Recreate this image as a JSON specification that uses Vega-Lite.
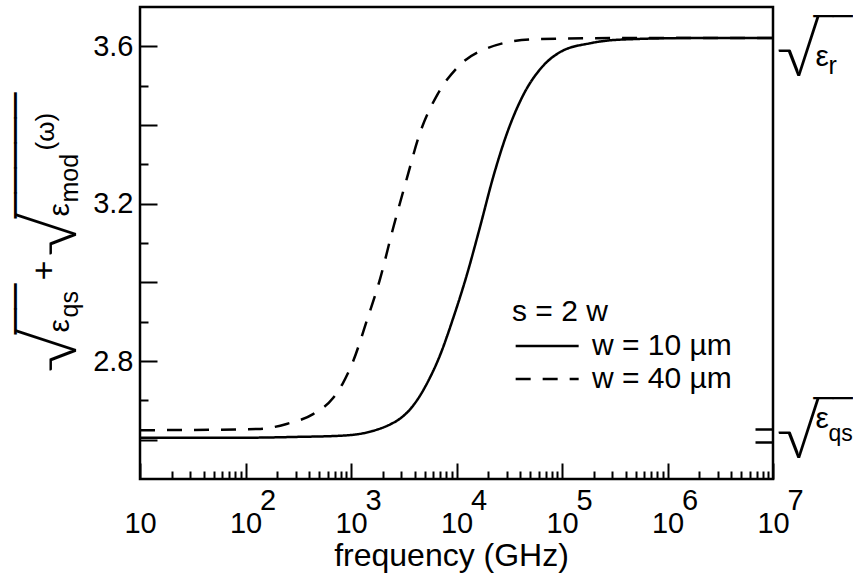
{
  "$schema": "https://vega.github.io/schema/vega-lite/v6.json",
  "width": 633,
  "height": 472,
  "autosize": "none",
  "padding": {"left": 140, "top": 7, "right": 80, "bottom": 95},
  "background": "white",
  "config": {
    "font": "Liberation Sans",
    "view": {"stroke": "black", "strokeWidth": 2.5},
    "axis": {
      "domain": false, "grid": false,
      "labelColor": "black", "titleColor": "black", "tickColor": "black", "tickWidth": 2,
      "labelFont": "Liberation Sans", "titleFont": "Liberation Sans", "titleFontWeight": "normal",
      "labelFlush": false, "labelOverlap": false, "labelBound": false
    }
  },
  "data": {"values": [
    {"series": "w = 10 µm", "frequency": 10, "value": 2.605},
    {"series": "w = 10 µm", "frequency": 100, "value": 2.605},
    {"series": "w = 10 µm", "frequency": 300, "value": 2.607},
    {"series": "w = 10 µm", "frequency": 800, "value": 2.610},
    {"series": "w = 10 µm", "frequency": 1600, "value": 2.622},
    {"series": "w = 10 µm", "frequency": 2400, "value": 2.640},
    {"series": "w = 10 µm", "frequency": 2900, "value": 2.653},
    {"series": "w = 10 µm", "frequency": 3600, "value": 2.676},
    {"series": "w = 10 µm", "frequency": 4270, "value": 2.702},
    {"series": "w = 10 µm", "frequency": 5370, "value": 2.748},
    {"series": "w = 10 µm", "frequency": 6920, "value": 2.812},
    {"series": "w = 10 µm", "frequency": 9330, "value": 2.910},
    {"series": "w = 10 µm", "frequency": 12600, "value": 3.021},
    {"series": "w = 10 µm", "frequency": 16600, "value": 3.138},
    {"series": "w = 10 µm", "frequency": 22400, "value": 3.270},
    {"series": "w = 10 µm", "frequency": 30200, "value": 3.380},
    {"series": "w = 10 µm", "frequency": 42700, "value": 3.475},
    {"series": "w = 10 µm", "frequency": 66000, "value": 3.550},
    {"series": "w = 10 µm", "frequency": 95500, "value": 3.585},
    {"series": "w = 10 µm", "frequency": 186000, "value": 3.608},
    {"series": "w = 10 µm", "frequency": 355000, "value": 3.617},
    {"series": "w = 10 µm", "frequency": 1600000, "value": 3.621},
    {"series": "w = 10 µm", "frequency": 10000000, "value": 3.621},
    {"series": "w = 40 µm", "frequency": 10, "value": 2.624},
    {"series": "w = 40 µm", "frequency": 130, "value": 2.627},
    {"series": "w = 40 µm", "frequency": 245, "value": 2.640},
    {"series": "w = 40 µm", "frequency": 437, "value": 2.665},
    {"series": "w = 40 µm", "frequency": 676, "value": 2.706},
    {"series": "w = 40 µm", "frequency": 832, "value": 2.742},
    {"series": "w = 40 µm", "frequency": 1050, "value": 2.800},
    {"series": "w = 40 µm", "frequency": 1410, "value": 2.902},
    {"series": "w = 40 µm", "frequency": 1860, "value": 3.003},
    {"series": "w = 40 µm", "frequency": 2510, "value": 3.138},
    {"series": "w = 40 µm", "frequency": 3390, "value": 3.265},
    {"series": "w = 40 µm", "frequency": 4470, "value": 3.377},
    {"series": "w = 40 µm", "frequency": 6610, "value": 3.478},
    {"series": "w = 40 µm", "frequency": 10000, "value": 3.544},
    {"series": "w = 40 µm", "frequency": 19500, "value": 3.595},
    {"series": "w = 40 µm", "frequency": 53700, "value": 3.618},
    {"series": "w = 40 µm", "frequency": 316000, "value": 3.621},
    {"series": "w = 40 µm", "frequency": 10000000, "value": 3.621}
  ]},
  "layer": [
    {
      "mark": {"type": "line", "interpolate": "monotone", "strokeWidth": 2.5, "color": "black"},
      "encoding": {
        "x": {"field": "frequency", "type": "quantitative",
          "scale": {"type": "log", "domain": [10, 10000000]},
          "axis": {
            "orient": "bottom",
            "values": [10,20,30,40,50,60,70,80,90,100,200,300,400,500,600,700,800,900,1000,2000,3000,4000,5000,6000,7000,8000,9000,10000,20000,30000,40000,50000,60000,70000,80000,90000,100000,200000,300000,400000,500000,600000,700000,800000,900000,1000000,2000000,3000000,4000000,5000000,6000000,7000000,8000000,9000000,10000000],
            "tickSize": {"condition": {"test": "abs(log(datum.value)/LN10 - round(log(datum.value)/LN10)) < 0.01", "value": -16}, "value": -8},
            "labelExpr": "abs(log(datum.value)/LN10 - round(log(datum.value)/LN10)) < 0.01 ? '10' : ''",
            "labelFontSize": 29, "labelPadding": 46, "labelAlign": "center", "labelBaseline": "top",
            "title": "frequency (GHz)", "titleFontSize": 32, "titleX": 311, "titleY": 86,
            "titleAlign": "center", "titleBaseline": "alphabetic", "titleAnchor": null
          }},
        "y": {"field": "value", "type": "quantitative",
          "scale": {"domain": [2.5, 3.7]},
          "axis": {
            "orient": "left",
            "values": [2.6,2.7,2.8,2.9,3.0,3.1,3.2,3.3,3.4,3.5,3.6],
            "tickSize": {"condition": {"test": "round(datum.value*10) % 2 == 0", "value": -17}, "value": -8},
            "labelExpr": "indexof([28,32,36], round(datum.value*10)) >= 0 ? format(datum.value, '.1f') : ''",
            "labelFontSize": 29, "labelPadding": 24, "labelAlign": "right", "labelBaseline": "middle",
            "title": null
          }},
        "strokeDash": {"field": "series", "type": "nominal",
          "scale": {"domain": ["w = 10 µm", "w = 40 µm"], "range": [[1, 0], [15, 12]]},
          "legend": {
            "orient": "none", "legendX": 372, "legendY": 290, "padding": 0,
            "title": "s = 2 w", "titleFontSize": 30, "titleFontWeight": "normal", "titleFont": "Liberation Sans", "titleColor": "black", "titlePadding": 4,
            "labelFontSize": 30, "labelFont": "Liberation Sans", "labelColor": "black", "labelOffset": 50,
            "symbolType": "M-1.08,0H4.92", "symbolSize": 441, "symbolStrokeWidth": 2.5, "symbolStrokeColor": "black", "rowPadding": 3
          }}
      }
    },
    {
      "mark": {"type": "point", "opacity": 0},
      "encoding": {
        "x": {"field": "frequency", "type": "quantitative", "scale": {"type": "log", "domain": [10, 10000000]},
          "axis": {"orient": "bottom", "values": [100,1000,10000,100000,1000000,10000000],
            "labelExpr": "'' + round(log(datum.value)/LN10)", "ticks": false,
            "labelFontSize": 29, "labelPadding": 7, "labelOffset": 22, "labelAlign": "center", "labelBaseline": "top", "title": null}}
      }
    },
    {
      "mark": {"type": "point", "opacity": 0},
      "encoding": {
        "y": {"field": "value", "type": "quantitative", "scale": {"domain": [2.5, 3.7]},
          "axis": {"orient": "right", "values": [2.594, 2.626], "tickSize": -18, "tickWidth": 2.5, "labels": false, "title": null}}
      }
    },
    {
      "mark": {"type": "point", "opacity": 0},
      "encoding": {
        "y": {"field": "value", "type": "quantitative", "scale": {"domain": [2.5, 3.7]},
          "axis": {"orient": "right", "values": [3.5271, 2.5534], "ticks": false, "labelExpr": "'√'",
            "labelFont": "Lato", "labelFontWeight": 300,
            "labelFontSize": 70, "labelPadding": 3, "labelAlign": "left", "labelBaseline": "alphabetic", "title": null}}
      }
    },
    {
      "mark": {"type": "point", "opacity": 0},
      "encoding": {
        "y": {"field": "value", "type": "quantitative", "scale": {"domain": [2.5, 3.7]},
          "axis": {"orient": "right", "values": [3.6644, 2.6907], "ticks": false, "labelExpr": "'__'",
            "labelFontSize": 35, "labelPadding": 79, "labelAngle": 180, "labelAlign": "left", "labelBaseline": "alphabetic", "title": null}}
      }
    },
    {
      "mark": {"type": "point", "opacity": 0},
      "encoding": {
        "y": {"field": "value", "type": "quantitative", "scale": {"domain": [2.5, 3.7]},
          "axis": {"orient": "right", "values": [3.5525, 2.6322], "ticks": false, "labelExpr": "'ε'",
            "labelFontSize": 30, "labelPadding": 42, "labelAlign": "left", "labelBaseline": "alphabetic", "title": null}}
      }
    },
    {
      "mark": {"type": "point", "opacity": 0},
      "encoding": {
        "y": {"field": "value", "type": "quantitative", "scale": {"domain": [2.5, 3.7]},
          "axis": {"orient": "right", "values": [3.5322, 2.5991], "ticks": false, "labelExpr": "datum.value > 3 ? 'r' : 'qs'",
            "labelFontSize": {"condition": {"test": "datum.value > 3", "value": 25}, "value": 23},
            "labelPadding": 55, "labelAlign": "left", "labelBaseline": "alphabetic", "title": null}}
      }
    },
    {
      "mark": {"type": "point", "opacity": 0},
      "encoding": {
        "y": {"field": "value", "type": "quantitative", "scale": {"domain": [2.5, 3.7]},
          "axis": {"orient": "left", "values": [2.772, 3.067], "ticks": false, "labelExpr": "'√'",
            "labelFont": "Lato", "labelFontWeight": 300,
            "labelFontSize": 70, "labelPadding": 65, "labelAngle": -90, "labelAlign": "left", "labelBaseline": "alphabetic", "title": null}}
      }
    },
    {
      "mark": {"type": "point", "opacity": 0},
      "encoding": {
        "y": {"field": "value", "type": "quantitative", "scale": {"domain": [2.5, 3.7]},
          "axis": {"orient": "left", "values": [2.997, 3.4826], "ticks": false, "labelExpr": "datum.value < 3.2 ? '__' : '_____'",
            "labelFontSize": 45, "labelPadding": 118, "labelAngle": 90, "labelAlign": "left", "labelBaseline": "alphabetic", "title": null}}
      }
    },
    {
      "mark": {"type": "point", "opacity": 0},
      "encoding": {
        "y": {"field": "value", "type": "quantitative", "scale": {"domain": [2.5, 3.7]},
          "axis": {"orient": "left", "values": [2.8737, 3.1686], "ticks": false, "labelExpr": "'ε'",
            "labelFontSize": 30, "labelPadding": 72, "labelAngle": -90, "labelAlign": "left", "labelBaseline": "alphabetic", "title": null}}
      }
    },
    {
      "mark": {"type": "point", "opacity": 0},
      "encoding": {
        "y": {"field": "value", "type": "quantitative", "scale": {"domain": [2.5, 3.7]},
          "axis": {"orient": "left", "values": [2.9119, 3.2042], "ticks": false, "labelExpr": "datum.value < 3 ? 'qs' : 'mod'",
            "labelFontSize": 25, "labelPadding": 63, "labelAngle": -90, "labelAlign": "left", "labelBaseline": "alphabetic", "title": null}}
      }
    },
    {
      "mark": {"type": "point", "opacity": 0},
      "encoding": {
        "y": {"field": "value", "type": "quantitative", "scale": {"domain": [2.5, 3.7]},
          "axis": {"orient": "left", "values": [3.0314], "ticks": false, "labelExpr": "'+'",
            "labelFontSize": 34, "labelPadding": 86, "labelAngle": -90, "labelAlign": "center", "labelBaseline": "alphabetic", "title": null}}
      }
    },
    {
      "mark": {"type": "point", "opacity": 0},
      "encoding": {
        "y": {"field": "value", "type": "quantitative", "scale": {"domain": [2.5, 3.7]},
          "axis": {"orient": "left", "values": [3.3364], "ticks": false, "labelExpr": "'(ω)'",
            "labelFontSize": 26, "labelPadding": 87, "labelAngle": -90, "labelAlign": "left", "labelBaseline": "alphabetic", "title": null}}
      }
    }
  ],
  "resolve": {"axis": {"x": "independent", "y": "independent"}}
}
